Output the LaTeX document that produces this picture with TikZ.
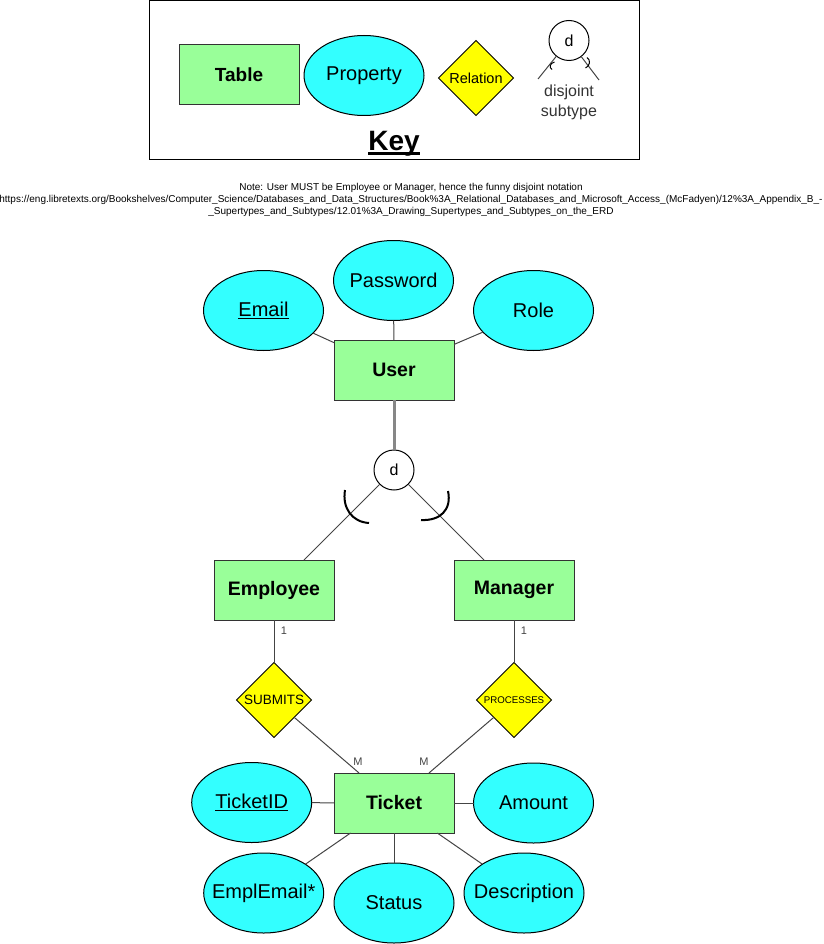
\documentclass[tikz,border=0pt]{standalone}
\usepackage{fontspec}
\setmainfont{Liberation Sans}
\usetikzlibrary{shapes.geometric}
\definecolor{tgreen}{HTML}{99FF99}
\definecolor{pcyan}{HTML}{33FFFF}
\definecolor{ryel}{HTML}{FFFF00}
\definecolor{lnc}{HTML}{444444}
\definecolor{bdr}{HTML}{333333}
\definecolor{dbl}{HTML}{878787}
\newsavebox\ulbox
\newcommand\myul[3]{\sbox\ulbox{#1}\rlap{\rule[#2]{\wd\ulbox}{#3}}\usebox\ulbox}
\newcommand\zw[1]{\makebox[0pt]{#1}}
\begin{document}
\begin{tikzpicture}[x=1pt,y=-1pt,
  tbl/.style={rectangle, draw=bdr, line width=1pt, fill=tgreen, minimum width=120pt, minimum height=60pt, inner sep=0pt, outer sep=0pt, font=\fontsize{19.5}{23}\selectfont\bfseries},
  prop/.style={ellipse, draw=black, line width=1pt, fill=pcyan, minimum width=120pt, minimum height=80pt, inner sep=0pt, outer sep=0pt, font=\fontsize{20}{24}\selectfont},
  rel/.style={diamond, draw=black, line width=1pt, fill=ryel, minimum width=75pt, minimum height=75pt, inner sep=0pt, outer sep=0pt},
  dcirc/.style={circle, draw=black, line width=1pt, fill=white, minimum size=40pt, inner sep=0pt, outer sep=0pt, font=\fontsize{16}{19}\selectfont},
  conn/.style={draw=lnc, line width=1pt},
  arcln/.style={draw=black, line width=2pt},
  card/.style={text=lnc, inner sep=0pt, font=\fontsize{11}{13}\selectfont},
]
\useasboundingbox (0,0) rectangle (823,944);

% ---------- Key ----------
\node[draw=black, line width=1pt, minimum width=490pt, minimum height=159pt, inner sep=0pt] (keyframe) at (394,80.5) {};
\node[tbl, font=\fontsize{19}{23}\selectfont\bfseries] (ktable) at (239,75) {Table};
\node[prop] (kprop) at (364,75.5) {\zw{Property}};
\node[rel, font=\fontsize{14.5}{17}\selectfont] (krel) at (476,78) {\zw{Relation}};
\node[dcirc] (kd) at (569,40.5) {d};
\coordinate (kl) at (538,79);
\coordinate (kr) at (599,80);
\draw[conn] (kd) -- (kl);
\draw[conn] (kd) -- (kr);
\draw[draw=black, line width=1pt] (554.5,62) .. controls (549.5,63.5) and (549,67.5) .. (552,69.5);
\draw[draw=black, line width=1pt] (587,57.5) .. controls (591,60) and (590,66) .. (585.5,68);
\node[text=bdr, align=center, inner sep=0pt, font=\fontsize{16}{20}\selectfont] (kdis) at (569,102) {disjoint\\subtype};
\node[inner sep=0pt, font=\fontsize{28}{32}\selectfont\bfseries] (keytitle) at (394,143.5) {\myul{Key}{-5pt}{3pt}};

% ---------- Note ----------
\node[align=center, inner sep=0pt, font=\fontsize{10}{12}\selectfont] (note) at (411,200) {Note: User MUST be Employee or Manager, hence the funny disjoint notation\\https://eng.libretexts.org/Bookshelves/Computer\_Science/Databases\_and\_Data\_Structures/Book\%3A\_Relational\_Databases\_and\_Microsoft\_Access\_(McFadyen)/12\%3A\_Appendix\_B\_-\\\_Supertypes\_and\_Subtypes/12.01\%3A\_Drawing\_Supertypes\_and\_Subtypes\_on\_the\_ERD};

% ---------- User ----------
\node[prop] (email) at (263.5,310.5) {\zw{\myul{Email}{-2.5pt}{1.4pt}}};
\node[prop] (password) at (393.5,280.5) {\zw{Password}};
\node[prop] (role) at (533.5,310.5) {\zw{Role}};
\node[tbl] (user) at (394,370) {User};
\draw[conn] (email) -- (user);
\draw[conn] (password) -- (user);
\draw[conn] (role) -- (user);

\node[dcirc] (d) at (394,470) {d};
\draw[draw=dbl, line width=3pt] (user) -- (d);

\node[tbl] (employee) at (274,590) {Employee};
\node[tbl] (manager) at (514,590) {Manager};
\draw[conn] (d) -- (employee);
\draw[conn] (d) -- (manager);
\draw[arcln] (345,490) .. controls (342,508) and (352,522) .. (369,523);
\draw[arcln] (448,491) .. controls (452,510) and (440,521) .. (421,520);

% ---------- Relations ----------
\node[rel, font=\fontsize{13.5}{16}\selectfont] (submits) at (274,700) {\zw{SUBMITS}};
\node[rel, font=\fontsize{9.7}{12}\selectfont] (processes) at (514,700) {\zw{PROCESSES}};
\node[tbl] (ticket) at (394,803) {Ticket};
\draw[conn] (employee) -- (submits);
\draw[conn] (manager) -- (processes);
\draw[conn] (submits) -- (ticket);
\draw[conn] (processes) -- (ticket);
\node[card] (c1) at (284,631) {1};
\node[card] (c2) at (524,631) {1};
\node[card] (m1) at (358,762) {M};
\node[card] (m2) at (424,762) {M};

% ---------- Ticket attributes ----------
\node[prop] (ticketid) at (251.7,802.5) {\zw{\myul{TicketID}{-2.5pt}{1.4pt}}};
\node[prop] (amount) at (533.5,803) {\zw{Amount}};
\node[prop] (emplemail) at (263.7,893) {\zw{EmplEmail*}};
\node[prop] (status) at (394,903) {\zw{Status}};
\node[prop] (description) at (524,893) {\zw{Description}};
\draw[conn] (ticketid) -- (ticket);
\draw[conn] (amount) -- (ticket);
\draw[conn] (emplemail) -- (ticket);
\draw[conn] (status) -- (ticket);
\draw[conn] (description) -- (ticket);
\end{tikzpicture}
\end{document}
